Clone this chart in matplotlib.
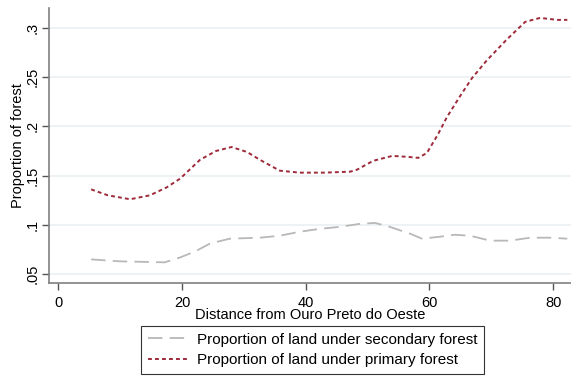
import matplotlib
matplotlib.use("Agg")
from matplotlib import pyplot as plt

plt.rcParams['font.family'] = ['Liberation Sans', 'DejaVu Sans']

# distance (km) and proportion of land under each forest type
dist_primary = [5.3, 8, 11.6, 14.8, 17.5, 19.7, 22.9, 25.5, 28.0, 30.5, 32.6, 35.8, 39, 43, 47.2,
                48.3, 50.9, 54.0, 56.5, 58.2, 59.6, 61.4, 62.8, 65.0, 66.9, 69.3, 72.5,
                75.5, 77.9, 80.7, 82.3]
primary = [0.136, 0.130, 0.126, 0.130, 0.138, 0.147, 0.166, 0.175, 0.179, 0.174, 0.166, 0.155,
           0.153, 0.153, 0.154, 0.156, 0.165, 0.170, 0.169, 0.168, 0.173, 0.192, 0.209,
           0.231, 0.249, 0.267, 0.288, 0.306, 0.310, 0.308, 0.308]

dist_secondary = [5.3, 10, 17.2, 19.7, 22.1, 24.5, 27.7, 32.6, 35.8, 39, 42.3, 45.5, 48.7,
                  51.2, 53.6, 56.9, 58.8, 61.7, 64.1, 66.6, 69.8, 73, 76.3, 79.5, 82.3]
secondary = [0.065, 0.063, 0.062, 0.067, 0.073, 0.081, 0.086, 0.087, 0.089, 0.093, 0.096,
             0.098, 0.101, 0.102, 0.098, 0.091, 0.086, 0.088, 0.090, 0.089, 0.084, 0.084,
             0.087, 0.087, 0.086]

fig = plt.figure(figsize=(5.71, 3.83), dpi=100)
ax = fig.add_axes([0.086, 0.261, 0.914, 0.718])

# light horizontal grid like Stata's s2color scheme
for yv in [0.05, 0.1, 0.15, 0.2, 0.25, 0.3]:
    ax.axhline(yv, color='#eaf1f3', linewidth=1.2, zorder=0)

ax.plot(dist_secondary, secondary, color='#b8b8b8', linewidth=1.3,
        dashes=(8, 4), label='Proportion of land under secondary forest')
ax.plot(dist_primary, primary, color='#9e2a3a', linewidth=1.4,
        dashes=(2, 1.6), label='Proportion of land under primary forest')

ax.set_xlim(-1.5, 82.9)
ax.set_ylim(0.041, 0.32)
ax.set_xticks([0, 20, 40, 60, 80])
ax.set_yticks([0.05, 0.1, 0.15, 0.2, 0.25, 0.3])
ax.set_yticklabels(['.05', '.1', '.15', '.2', '.25', '.3'], rotation=90, va='center')
ax.tick_params(axis='both', colors='#555555', labelcolor='black', labelsize=10.5,
               length=5, width=1)
ax.tick_params(axis='y', pad=2)
ax.tick_params(axis='x', pad=4)

for side in ['top', 'right']:
    ax.spines[side].set_visible(False)
ax.spines['left'].set_color('#808080')
ax.spines['bottom'].set_color('#808080')
ax.spines['left'].set_linewidth(1.2)
ax.spines['bottom'].set_linewidth(1.2)

ax.set_xlabel('Distance from Ouro Preto do Oeste', fontsize=10.5, labelpad=-1)
ax.set_ylabel('Proportion of forest', fontsize=10.5, labelpad=0)

leg = fig.legend(loc='center', bbox_to_anchor=(0.547, 0.086), fontsize=11,
                 frameon=True, fancybox=False, edgecolor='black', handlelength=2.6,
                 borderpad=0.45, labelspacing=0.45, handletextpad=0.6,
                 borderaxespad=0)
leg.get_frame().set_linewidth(0.8)

fig.savefig('out.png', dpi=100, facecolor='white')
